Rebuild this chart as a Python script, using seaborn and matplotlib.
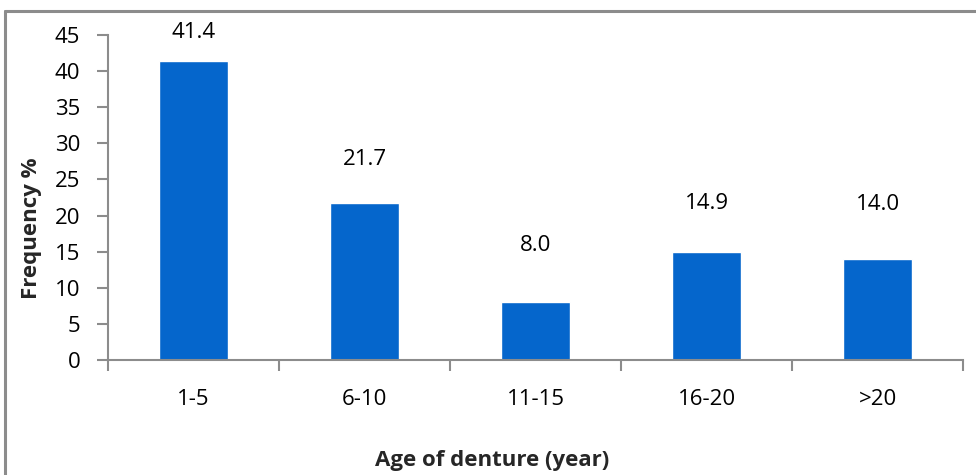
import numpy as np
import pandas as pd
import seaborn as sns
import matplotlib.pyplot as plt
from matplotlib.lines import Line2D

# Chart data
age_groups = ['1-5', '6-10', '11-15', '16-20', '>20']
frequency = [41.4, 21.7, 8.0, 14.9, 14.0]
# how far above each bar its value label sits (y units), as in the original
label_pad = [3.9, 6.0, 7.9, 6.8, 7.5]

sns.set_theme(style='white')
plt.rcParams['font.family'] = ['Open Sans', 'DejaVu Sans']

df = pd.DataFrame({'age': age_groups, 'freq': frequency})

fig = plt.figure(figsize=(9.76, 4.75), dpi=100)
ax = fig.add_axes([0.1107, 0.2421, 0.876, 0.6842])

sns.barplot(data=df, x='age', y='freq', color='#0566CC', width=0.4,
            saturation=1, ax=ax)

gray = '#8c8c8c'
fs = 16
ax.set_ylim(0, 45)
ax.set_xlim(-0.5, len(age_groups) - 0.5)
ax.set_yticks(np.arange(0, 46, 5))
ax.set_xticks(np.arange(-0.5, len(age_groups), 1), minor=True)

for side in ['top', 'right']:
    ax.spines[side].set_visible(False)
for side in ['left', 'bottom']:
    ax.spines[side].set_color(gray)
    ax.spines[side].set_linewidth(1.5)

ax.tick_params(axis='y', which='major', left=True, length=8, width=1.5,
               color=gray, direction='out', pad=12, labelsize=fs, labelcolor='black')
ax.tick_params(axis='x', which='major', length=0, pad=21, labelsize=fs, labelcolor='black')
ax.tick_params(axis='x', which='minor', bottom=True, length=8, width=1.5,
               color=gray, direction='out')

ax.set_xlabel('')
ax.set_ylabel('')

for i, (v, p) in enumerate(zip(frequency, label_pad)):
    ax.text(i, v + p, f'{v:.1f}', ha='center', va='center', fontsize=fs, color='black')

fig.text(0.504, 0.03, 'Age of denture (year)', ha='center', va='center',
         fontsize=fs, fontweight='bold')
fig.text(0.032, 0.52, 'Frequency %', ha='center', va='center', rotation=90,
         fontsize=fs, fontweight='bold')

# outer chart frame
fig.add_artist(Line2D([5 / 976, 5 / 976], [-0.1, 1 - 11 / 475], color=gray, lw=2.2,
                      transform=fig.transFigure))
fig.add_artist(Line2D([5 / 976, 1.1], [1 - 11 / 475, 1 - 11 / 475], color=gray, lw=2.2,
                      transform=fig.transFigure))

fig.savefig('out.png', dpi=100)
